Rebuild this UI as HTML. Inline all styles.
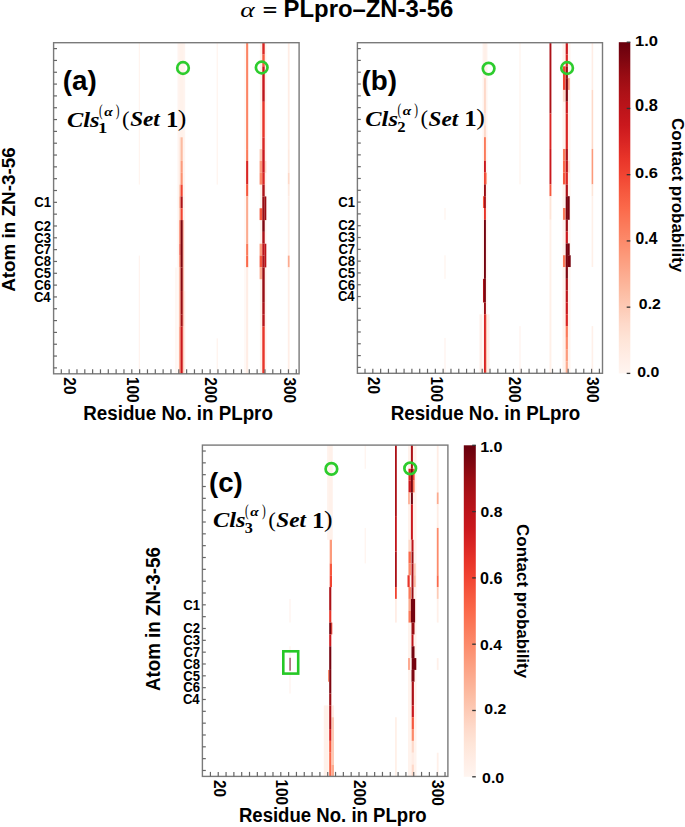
<!DOCTYPE html><html><head><meta charset="utf-8"><style>html,body{margin:0;padding:0;background:#fff}svg{display:block}</style></head><body>
<svg width="685" height="827" viewBox="0 0 685 827">
<rect width="685" height="827" fill="#fff"/>
<text transform="translate(240.28,16.59) scale(1.2918,1)" style="font-family:'Liberation Serif',serif;font-weight:normal;font-style:italic;font-size:21.250px;fill:#000">α</text>
<text transform="translate(262.82,15.58) scale(1.4355,1)" style="font-family:'Liberation Sans',sans-serif;font-weight:bold;font-style:normal;font-size:17.105px;fill:#000">=</text>
<text transform="translate(283.55,16.90) scale(0.9998,1)" style="font-family:'Liberation Sans',sans-serif;font-weight:bold;font-style:normal;font-size:23.900px;fill:#000">PLpro–ZN-3-56</text>
<rect x="138.80" y="42.70" width="1.00" height="141.90" fill="#fff2eb"/>
<rect x="138.80" y="255.55" width="1.00" height="118.25" fill="#fff1ea"/>
<rect x="177.50" y="42.70" width="7.70" height="331.10" fill="#fff4ef"/>
<rect x="179.50" y="42.70" width="4.10" height="141.90" fill="#fff2eb"/>
<rect x="175.50" y="267.38" width="1.00" height="106.43" fill="#fff0e8"/>
<rect x="184.00" y="291.03" width="1.20" height="82.77" fill="#ffede5"/>
<rect x="179.40" y="137.30" width="1.20" height="47.30" fill="#fee8dd"/>
<rect x="179.40" y="184.60" width="1.20" height="11.82" fill="#fcbba1"/>
<rect x="179.40" y="196.43" width="1.20" height="11.82" fill="#fc9b7c"/>
<rect x="179.40" y="208.25" width="1.20" height="11.83" fill="#fcbba1"/>
<rect x="179.40" y="220.08" width="1.20" height="23.65" fill="#fb694a"/>
<rect x="179.40" y="243.73" width="1.20" height="11.82" fill="#f14432"/>
<rect x="179.40" y="255.55" width="1.20" height="11.82" fill="#fb694a"/>
<rect x="179.40" y="267.38" width="1.20" height="59.12" fill="#fc9b7c"/>
<rect x="179.40" y="326.50" width="1.20" height="47.30" fill="#fb7a5a"/>
<rect x="182.70" y="220.08" width="0.70" height="106.42" fill="#fb694a"/>
<rect x="182.70" y="326.50" width="0.70" height="47.30" fill="#fc9b7c"/>
<rect x="180.60" y="137.30" width="2.10" height="23.65" fill="#fcbba1"/>
<rect x="180.60" y="160.95" width="2.10" height="11.83" fill="#fc9b7c"/>
<rect x="180.60" y="172.78" width="2.10" height="11.82" fill="#fc9070"/>
<rect x="180.60" y="184.60" width="2.10" height="11.82" fill="#f14432"/>
<rect x="180.60" y="196.43" width="2.10" height="11.82" fill="#ac1117"/>
<rect x="180.60" y="208.25" width="2.10" height="11.83" fill="#f14432"/>
<rect x="180.60" y="220.08" width="2.10" height="47.30" fill="#7e0610"/>
<rect x="180.60" y="267.38" width="2.10" height="23.65" fill="#880811"/>
<rect x="180.60" y="291.03" width="2.10" height="23.65" fill="#980c13"/>
<rect x="180.60" y="314.68" width="2.10" height="11.82" fill="#a10e15"/>
<rect x="180.60" y="326.50" width="2.10" height="47.30" fill="#ca181d"/>
<rect x="216.70" y="42.70" width="1.00" height="141.90" fill="#fff1ea"/>
<rect x="216.70" y="338.32" width="1.00" height="35.48" fill="#fff0e9"/>
<rect x="244.50" y="42.70" width="1.00" height="331.10" fill="#fff3ed"/>
<rect x="246.10" y="42.70" width="2.10" height="106.42" fill="#fc8464"/>
<rect x="246.10" y="149.12" width="2.10" height="11.83" fill="#fb7a5a"/>
<rect x="246.10" y="160.95" width="2.10" height="23.65" fill="#d92523"/>
<rect x="246.10" y="184.60" width="2.10" height="11.82" fill="#f6583e"/>
<rect x="246.10" y="196.43" width="2.10" height="47.30" fill="#fcab8f"/>
<rect x="246.10" y="243.73" width="2.10" height="11.82" fill="#fb7a5a"/>
<rect x="246.10" y="255.55" width="2.10" height="11.82" fill="#fb694a"/>
<rect x="246.10" y="267.38" width="2.10" height="106.43" fill="#ffede5"/>
<rect x="259.90" y="42.70" width="6.60" height="331.10" fill="#fff2eb"/>
<rect x="259.60" y="149.12" width="2.70" height="11.83" fill="#fdcab5"/>
<rect x="259.60" y="160.95" width="2.70" height="11.83" fill="#fc9b7c"/>
<rect x="259.60" y="172.78" width="2.70" height="11.82" fill="#fc8a6a"/>
<rect x="259.60" y="208.25" width="2.70" height="11.83" fill="#f6583e"/>
<rect x="259.60" y="243.73" width="2.70" height="11.82" fill="#fc9b7c"/>
<rect x="259.60" y="255.55" width="2.70" height="11.82" fill="#f6583e"/>
<rect x="259.60" y="267.38" width="2.70" height="11.83" fill="#fcab8f"/>
<rect x="264.70" y="160.95" width="1.60" height="11.83" fill="#fed9c9"/>
<rect x="264.70" y="196.43" width="1.60" height="23.65" fill="#980c13"/>
<rect x="264.70" y="243.73" width="1.60" height="23.65" fill="#bc141a"/>
<rect x="262.30" y="42.70" width="2.40" height="11.83" fill="#d92523"/>
<rect x="262.30" y="54.53" width="2.40" height="11.83" fill="#f6583e"/>
<rect x="262.30" y="66.35" width="2.40" height="23.65" fill="#ca181d"/>
<rect x="262.30" y="90.00" width="2.40" height="11.83" fill="#bc141a"/>
<rect x="262.30" y="101.83" width="2.40" height="35.47" fill="#e83429"/>
<rect x="262.30" y="137.30" width="2.40" height="11.82" fill="#d92523"/>
<rect x="262.30" y="149.12" width="2.40" height="23.65" fill="#ca181d"/>
<rect x="262.30" y="172.78" width="2.40" height="11.82" fill="#d92523"/>
<rect x="262.30" y="184.60" width="2.40" height="11.82" fill="#ac1117"/>
<rect x="262.30" y="196.43" width="2.40" height="23.65" fill="#980c13"/>
<rect x="262.30" y="220.08" width="2.40" height="11.82" fill="#7e0610"/>
<rect x="262.30" y="231.90" width="2.40" height="11.82" fill="#ac1117"/>
<rect x="262.30" y="243.73" width="2.40" height="11.82" fill="#bc141a"/>
<rect x="262.30" y="255.55" width="2.40" height="11.82" fill="#ac1117"/>
<rect x="262.30" y="267.38" width="2.40" height="35.48" fill="#980c13"/>
<rect x="262.30" y="302.85" width="2.40" height="11.82" fill="#ac1117"/>
<rect x="262.30" y="314.68" width="2.40" height="11.82" fill="#b61319"/>
<rect x="262.30" y="326.50" width="2.40" height="47.30" fill="#e83429"/>
<rect x="287.80" y="42.70" width="1.80" height="106.42" fill="#ffede5"/>
<rect x="287.80" y="149.12" width="1.80" height="23.65" fill="#feeae0"/>
<rect x="287.80" y="172.78" width="1.80" height="11.82" fill="#fed9c9"/>
<rect x="287.80" y="184.60" width="1.80" height="11.82" fill="#feeae0"/>
<rect x="287.80" y="196.43" width="1.80" height="59.12" fill="#ffeee7"/>
<rect x="287.80" y="255.55" width="1.80" height="11.82" fill="#fcab8f"/>
<rect x="287.80" y="267.38" width="1.80" height="106.43" fill="#ffeee7"/>
<rect x="53.6" y="42.7" width="245.50" height="331.10" fill="none" stroke="#7a7a7a" stroke-width="1.4"/>
<line x1="53.6" y1="48.61" x2="57.0" y2="48.61" stroke="#666" stroke-width="1.2"/>
<line x1="53.6" y1="60.44" x2="57.0" y2="60.44" stroke="#666" stroke-width="1.2"/>
<line x1="53.6" y1="72.26" x2="57.0" y2="72.26" stroke="#666" stroke-width="1.2"/>
<line x1="53.6" y1="84.09" x2="57.0" y2="84.09" stroke="#666" stroke-width="1.2"/>
<line x1="53.6" y1="95.91" x2="57.0" y2="95.91" stroke="#666" stroke-width="1.2"/>
<line x1="53.6" y1="107.74" x2="57.0" y2="107.74" stroke="#666" stroke-width="1.2"/>
<line x1="53.6" y1="119.56" x2="57.0" y2="119.56" stroke="#666" stroke-width="1.2"/>
<line x1="53.6" y1="131.39" x2="57.0" y2="131.39" stroke="#666" stroke-width="1.2"/>
<line x1="53.6" y1="143.21" x2="57.0" y2="143.21" stroke="#666" stroke-width="1.2"/>
<line x1="53.6" y1="155.04" x2="57.0" y2="155.04" stroke="#666" stroke-width="1.2"/>
<line x1="53.6" y1="166.86" x2="57.0" y2="166.86" stroke="#666" stroke-width="1.2"/>
<line x1="53.6" y1="178.69" x2="57.0" y2="178.69" stroke="#666" stroke-width="1.2"/>
<line x1="53.6" y1="190.51" x2="57.0" y2="190.51" stroke="#666" stroke-width="1.2"/>
<line x1="53.6" y1="202.34" x2="57.0" y2="202.34" stroke="#666" stroke-width="1.2"/>
<line x1="53.6" y1="214.16" x2="57.0" y2="214.16" stroke="#666" stroke-width="1.2"/>
<line x1="53.6" y1="225.99" x2="57.0" y2="225.99" stroke="#666" stroke-width="1.2"/>
<line x1="53.6" y1="237.81" x2="57.0" y2="237.81" stroke="#666" stroke-width="1.2"/>
<line x1="53.6" y1="249.64" x2="57.0" y2="249.64" stroke="#666" stroke-width="1.2"/>
<line x1="53.6" y1="261.46" x2="57.0" y2="261.46" stroke="#666" stroke-width="1.2"/>
<line x1="53.6" y1="273.29" x2="57.0" y2="273.29" stroke="#666" stroke-width="1.2"/>
<line x1="53.6" y1="285.11" x2="57.0" y2="285.11" stroke="#666" stroke-width="1.2"/>
<line x1="53.6" y1="296.94" x2="57.0" y2="296.94" stroke="#666" stroke-width="1.2"/>
<line x1="53.6" y1="308.76" x2="57.0" y2="308.76" stroke="#666" stroke-width="1.2"/>
<line x1="53.6" y1="320.59" x2="57.0" y2="320.59" stroke="#666" stroke-width="1.2"/>
<line x1="53.6" y1="332.41" x2="57.0" y2="332.41" stroke="#666" stroke-width="1.2"/>
<line x1="53.6" y1="344.24" x2="57.0" y2="344.24" stroke="#666" stroke-width="1.2"/>
<line x1="53.6" y1="356.06" x2="57.0" y2="356.06" stroke="#666" stroke-width="1.2"/>
<line x1="53.6" y1="367.89" x2="57.0" y2="367.89" stroke="#666" stroke-width="1.2"/>
<line x1="61.30" y1="373.8" x2="61.30" y2="369.3" stroke="#666" stroke-width="1.2"/>
<line x1="69.14" y1="373.8" x2="69.14" y2="369.3" stroke="#666" stroke-width="1.2"/>
<line x1="76.97" y1="373.8" x2="76.97" y2="369.3" stroke="#666" stroke-width="1.2"/>
<line x1="84.80" y1="373.8" x2="84.80" y2="369.3" stroke="#666" stroke-width="1.2"/>
<line x1="92.63" y1="373.8" x2="92.63" y2="369.3" stroke="#666" stroke-width="1.2"/>
<line x1="100.47" y1="373.8" x2="100.47" y2="369.3" stroke="#666" stroke-width="1.2"/>
<line x1="108.30" y1="373.8" x2="108.30" y2="369.3" stroke="#666" stroke-width="1.2"/>
<line x1="116.13" y1="373.8" x2="116.13" y2="369.3" stroke="#666" stroke-width="1.2"/>
<line x1="123.97" y1="373.8" x2="123.97" y2="369.3" stroke="#666" stroke-width="1.2"/>
<line x1="131.80" y1="373.8" x2="131.80" y2="369.3" stroke="#666" stroke-width="1.2"/>
<line x1="139.63" y1="373.8" x2="139.63" y2="369.3" stroke="#666" stroke-width="1.2"/>
<line x1="147.47" y1="373.8" x2="147.47" y2="369.3" stroke="#666" stroke-width="1.2"/>
<line x1="155.30" y1="373.8" x2="155.30" y2="369.3" stroke="#666" stroke-width="1.2"/>
<line x1="163.13" y1="373.8" x2="163.13" y2="369.3" stroke="#666" stroke-width="1.2"/>
<line x1="170.97" y1="373.8" x2="170.97" y2="369.3" stroke="#666" stroke-width="1.2"/>
<line x1="178.80" y1="373.8" x2="178.80" y2="369.3" stroke="#666" stroke-width="1.2"/>
<line x1="186.63" y1="373.8" x2="186.63" y2="369.3" stroke="#666" stroke-width="1.2"/>
<line x1="194.46" y1="373.8" x2="194.46" y2="369.3" stroke="#666" stroke-width="1.2"/>
<line x1="202.30" y1="373.8" x2="202.30" y2="369.3" stroke="#666" stroke-width="1.2"/>
<line x1="210.13" y1="373.8" x2="210.13" y2="369.3" stroke="#666" stroke-width="1.2"/>
<line x1="217.96" y1="373.8" x2="217.96" y2="369.3" stroke="#666" stroke-width="1.2"/>
<line x1="225.80" y1="373.8" x2="225.80" y2="369.3" stroke="#666" stroke-width="1.2"/>
<line x1="233.63" y1="373.8" x2="233.63" y2="369.3" stroke="#666" stroke-width="1.2"/>
<line x1="241.46" y1="373.8" x2="241.46" y2="369.3" stroke="#666" stroke-width="1.2"/>
<line x1="249.29" y1="373.8" x2="249.29" y2="369.3" stroke="#666" stroke-width="1.2"/>
<line x1="257.13" y1="373.8" x2="257.13" y2="369.3" stroke="#666" stroke-width="1.2"/>
<line x1="264.96" y1="373.8" x2="264.96" y2="369.3" stroke="#666" stroke-width="1.2"/>
<line x1="272.79" y1="373.8" x2="272.79" y2="369.3" stroke="#666" stroke-width="1.2"/>
<line x1="280.63" y1="373.8" x2="280.63" y2="369.3" stroke="#666" stroke-width="1.2"/>
<line x1="288.46" y1="373.8" x2="288.46" y2="369.3" stroke="#666" stroke-width="1.2"/>
<line x1="296.29" y1="373.8" x2="296.29" y2="369.3" stroke="#666" stroke-width="1.2"/>
<text transform="translate(34.21,207.10) scale(0.9500,1)" style="font-family:'Liberation Sans',sans-serif;font-weight:bold;font-style:normal;font-size:13.800px;fill:#000">C1</text>
<text transform="translate(34.34,230.75) scale(0.9500,1)" style="font-family:'Liberation Sans',sans-serif;font-weight:bold;font-style:normal;font-size:13.800px;fill:#000">C2</text>
<text transform="translate(34.34,242.57) scale(0.9500,1)" style="font-family:'Liberation Sans',sans-serif;font-weight:bold;font-style:normal;font-size:13.800px;fill:#000">C3</text>
<text transform="translate(34.41,254.40) scale(0.9500,1)" style="font-family:'Liberation Sans',sans-serif;font-weight:bold;font-style:normal;font-size:13.800px;fill:#000">C7</text>
<text transform="translate(34.21,266.22) scale(0.9500,1)" style="font-family:'Liberation Sans',sans-serif;font-weight:bold;font-style:normal;font-size:13.800px;fill:#000">C8</text>
<text transform="translate(34.21,278.05) scale(0.9500,1)" style="font-family:'Liberation Sans',sans-serif;font-weight:bold;font-style:normal;font-size:13.800px;fill:#000">C5</text>
<text transform="translate(34.34,289.87) scale(0.9500,1)" style="font-family:'Liberation Sans',sans-serif;font-weight:bold;font-style:normal;font-size:13.800px;fill:#000">C6</text>
<text transform="translate(33.88,301.70) scale(0.9500,1)" style="font-family:'Liberation Sans',sans-serif;font-weight:bold;font-style:normal;font-size:13.800px;fill:#000">C4</text>
<text transform="translate(64.42,377.36) rotate(90) scale(0.9600,1)" style="font-family:'Liberation Sans',sans-serif;font-weight:bold;font-style:normal;font-size:16.000px;fill:#000">20</text>
<text transform="translate(127.08,376.90) rotate(90) scale(0.9600,1)" style="font-family:'Liberation Sans',sans-serif;font-weight:bold;font-style:normal;font-size:16.000px;fill:#000">100</text>
<text transform="translate(205.41,377.36) rotate(90) scale(0.9600,1)" style="font-family:'Liberation Sans',sans-serif;font-weight:bold;font-style:normal;font-size:16.000px;fill:#000">200</text>
<text transform="translate(283.74,377.52) rotate(90) scale(0.9600,1)" style="font-family:'Liberation Sans',sans-serif;font-weight:bold;font-style:normal;font-size:16.000px;fill:#000">300</text>
<text transform="translate(62.71,90.23) scale(1.0135,1)" style="font-family:'Liberation Sans',sans-serif;font-weight:bold;font-style:normal;font-size:27.487px;fill:#000">(a)</text>
<text transform="translate(66.95,126.59) scale(1.1703,1)" style="font-family:'Liberation Serif',serif;font-weight:bold;font-style:italic;font-size:20.857px;fill:#000">Cls</text>
<text transform="translate(97.91,132.50) scale(1.2858,1)" style="font-family:'Liberation Serif',serif;font-weight:bold;font-style:normal;font-size:14.504px;fill:#000">1</text>
<text transform="translate(99.01,115.66) scale(0.6911,1)" style="font-family:'Liberation Serif',serif;font-weight:normal;font-style:normal;font-size:15.889px;fill:#000">(</text>
<text transform="translate(104.27,115.57) scale(1.1824,1)" style="font-family:'Liberation Serif',serif;font-weight:bold;font-style:italic;font-size:12.917px;fill:#000">α</text>
<text transform="translate(115.87,115.66) scale(0.7020,1)" style="font-family:'Liberation Serif',serif;font-weight:normal;font-style:normal;font-size:15.889px;fill:#000">)</text>
<text transform="translate(122.08,126.17) scale(1.0552,1)" style="font-family:'Liberation Serif',serif;font-weight:normal;font-style:normal;font-size:21.556px;fill:#000">(</text>
<text transform="translate(130.14,126.39) scale(1.0796,1)" style="font-family:'Liberation Serif',serif;font-weight:bold;font-style:italic;font-size:21.493px;fill:#000">Set</text>
<text transform="translate(165.91,126.80) scale(1.0858,1)" style="font-family:'Liberation Serif',serif;font-weight:bold;font-style:normal;font-size:22.901px;fill:#000">1</text>
<text transform="translate(177.83,126.03) scale(1.1596,1)" style="font-family:'Liberation Serif',serif;font-weight:normal;font-style:normal;font-size:22.222px;fill:#000">)</text>
<circle cx="183" cy="68" r="5.8" fill="none" stroke="#2dcc2d" stroke-width="2.7"/>
<circle cx="261.7" cy="67.5" r="5.8" fill="none" stroke="#2dcc2d" stroke-width="2.7"/>
<text transform="translate(14.81,291.87) rotate(-90) scale(0.9978,1)" style="font-family:'Liberation Sans',sans-serif;font-weight:bold;font-style:normal;font-size:18.912px;fill:#000">Atom in ZN-3-56</text>
<text transform="translate(83.28,419.99) scale(0.9586,1)" style="font-family:'Liberation Sans',sans-serif;font-weight:bold;font-style:normal;font-size:19.572px;fill:#000">Residue No. in PLpro</text>
<rect x="444.50" y="208.00" width="1.00" height="11.81" fill="#fff1ea"/>
<rect x="444.50" y="255.23" width="1.00" height="23.61" fill="#fff1ea"/>
<rect x="444.50" y="337.88" width="1.00" height="35.42" fill="#fff0e9"/>
<rect x="482.50" y="42.70" width="5.00" height="330.60" fill="#fff4ef"/>
<rect x="483.50" y="42.70" width="3.00" height="35.42" fill="#fff0e9"/>
<rect x="479.50" y="314.26" width="2.50" height="59.04" fill="#fff0e9"/>
<rect x="486.80" y="314.26" width="2.70" height="59.04" fill="#fff0e9"/>
<rect x="483.00" y="196.19" width="1.00" height="11.81" fill="#f6583e"/>
<rect x="483.00" y="278.84" width="1.00" height="23.61" fill="#ac1117"/>
<rect x="485.90" y="172.58" width="0.90" height="11.81" fill="#fc9b7c"/>
<rect x="485.90" y="314.26" width="0.90" height="59.04" fill="#fcbba1"/>
<rect x="484.00" y="78.12" width="1.90" height="35.42" fill="#fed9c9"/>
<rect x="484.00" y="113.54" width="1.90" height="11.81" fill="#fee5d8"/>
<rect x="484.00" y="125.35" width="1.90" height="11.81" fill="#fed9c9"/>
<rect x="484.00" y="137.16" width="1.90" height="23.61" fill="#fb7a5a"/>
<rect x="484.00" y="160.77" width="1.90" height="11.81" fill="#ca181d"/>
<rect x="484.00" y="172.58" width="1.90" height="11.81" fill="#f14432"/>
<rect x="484.00" y="184.39" width="1.90" height="11.81" fill="#980c13"/>
<rect x="484.00" y="196.19" width="1.90" height="11.81" fill="#ac1117"/>
<rect x="484.00" y="208.00" width="1.90" height="11.81" fill="#e83429"/>
<rect x="484.00" y="219.81" width="1.90" height="59.04" fill="#75030f"/>
<rect x="484.00" y="278.84" width="1.90" height="23.61" fill="#7e0610"/>
<rect x="484.00" y="302.46" width="1.90" height="11.81" fill="#980c13"/>
<rect x="484.00" y="314.26" width="1.90" height="59.04" fill="#d92523"/>
<rect x="519.50" y="42.70" width="1.00" height="141.69" fill="#fff1ea"/>
<rect x="519.50" y="326.07" width="1.00" height="47.23" fill="#fff0e9"/>
<rect x="549.50" y="42.70" width="1.90" height="70.84" fill="#ac1117"/>
<rect x="549.50" y="113.54" width="1.90" height="35.42" fill="#d92523"/>
<rect x="549.50" y="148.96" width="1.90" height="35.42" fill="#ca181d"/>
<rect x="549.50" y="184.39" width="1.90" height="11.81" fill="#f6583e"/>
<rect x="549.50" y="196.19" width="1.90" height="23.61" fill="#fee5d8"/>
<rect x="549.50" y="219.81" width="1.90" height="153.49" fill="#fff0e8"/>
<rect x="562.50" y="42.70" width="8.00" height="330.60" fill="#fff3ed"/>
<rect x="563.00" y="66.31" width="2.50" height="23.61" fill="#f14432"/>
<rect x="563.00" y="89.93" width="2.50" height="11.81" fill="#fed9c9"/>
<rect x="563.00" y="148.96" width="2.50" height="11.81" fill="#fb7a5a"/>
<rect x="563.00" y="160.77" width="2.50" height="11.81" fill="#fb694a"/>
<rect x="563.00" y="172.58" width="2.50" height="11.81" fill="#f6583e"/>
<rect x="563.00" y="208.00" width="2.50" height="11.81" fill="#fb7a5a"/>
<rect x="563.00" y="255.23" width="2.50" height="11.81" fill="#fb7a5a"/>
<rect x="567.60" y="78.12" width="2.10" height="11.81" fill="#fc9b7c"/>
<rect x="567.60" y="160.77" width="2.10" height="11.81" fill="#fed9c9"/>
<rect x="567.60" y="196.19" width="2.10" height="23.61" fill="#75030f"/>
<rect x="567.60" y="243.42" width="2.10" height="11.81" fill="#75030f"/>
<rect x="567.60" y="255.23" width="3.10" height="11.81" fill="#75030f"/>
<rect x="565.70" y="42.70" width="2.20" height="11.81" fill="#ca181d"/>
<rect x="565.70" y="54.51" width="2.20" height="11.81" fill="#d92523"/>
<rect x="565.70" y="66.31" width="2.20" height="11.81" fill="#980c13"/>
<rect x="565.70" y="78.12" width="2.20" height="23.61" fill="#7e0610"/>
<rect x="565.70" y="101.74" width="2.20" height="11.81" fill="#ca181d"/>
<rect x="565.70" y="113.54" width="2.20" height="35.42" fill="#d92523"/>
<rect x="565.70" y="148.96" width="2.20" height="11.81" fill="#ac1117"/>
<rect x="565.70" y="160.77" width="2.20" height="11.81" fill="#bc141a"/>
<rect x="565.70" y="172.58" width="2.20" height="11.81" fill="#d92523"/>
<rect x="565.70" y="184.39" width="2.20" height="11.81" fill="#ac1117"/>
<rect x="565.70" y="196.19" width="2.20" height="23.61" fill="#75030f"/>
<rect x="565.70" y="219.81" width="2.20" height="11.81" fill="#980c13"/>
<rect x="565.70" y="231.61" width="2.20" height="11.81" fill="#ca181d"/>
<rect x="565.70" y="243.42" width="2.20" height="23.61" fill="#75030f"/>
<rect x="565.70" y="267.04" width="2.20" height="11.81" fill="#7e0610"/>
<rect x="565.70" y="278.84" width="2.20" height="11.81" fill="#ac1117"/>
<rect x="565.70" y="290.65" width="2.20" height="11.81" fill="#bc141a"/>
<rect x="565.70" y="302.46" width="2.20" height="11.81" fill="#ca181d"/>
<rect x="565.70" y="314.26" width="2.20" height="11.81" fill="#d92523"/>
<rect x="565.70" y="326.07" width="2.20" height="11.81" fill="#fb7a5a"/>
<rect x="565.70" y="337.88" width="2.20" height="11.81" fill="#fc8a6a"/>
<rect x="565.70" y="349.69" width="2.20" height="11.81" fill="#fc9b7c"/>
<rect x="565.70" y="361.49" width="2.20" height="11.81" fill="#fcab8f"/>
<rect x="591.60" y="42.70" width="1.60" height="47.23" fill="#ffede5"/>
<rect x="591.60" y="89.93" width="1.60" height="59.04" fill="#fed9c9"/>
<rect x="591.60" y="148.96" width="1.60" height="35.42" fill="#fc9b7c"/>
<rect x="591.60" y="184.39" width="1.60" height="11.81" fill="#fee5d8"/>
<rect x="591.60" y="196.19" width="1.60" height="70.84" fill="#fff0e8"/>
<rect x="591.60" y="326.07" width="1.60" height="47.23" fill="#fff0e9"/>
<rect x="357.4" y="42.7" width="245.10" height="330.60" fill="none" stroke="#7a7a7a" stroke-width="1.4"/>
<line x1="357.4" y1="48.60" x2="360.79999999999995" y2="48.60" stroke="#666" stroke-width="1.2"/>
<line x1="357.4" y1="60.41" x2="360.79999999999995" y2="60.41" stroke="#666" stroke-width="1.2"/>
<line x1="357.4" y1="72.22" x2="360.79999999999995" y2="72.22" stroke="#666" stroke-width="1.2"/>
<line x1="357.4" y1="84.03" x2="360.79999999999995" y2="84.03" stroke="#666" stroke-width="1.2"/>
<line x1="357.4" y1="95.83" x2="360.79999999999995" y2="95.83" stroke="#666" stroke-width="1.2"/>
<line x1="357.4" y1="107.64" x2="360.79999999999995" y2="107.64" stroke="#666" stroke-width="1.2"/>
<line x1="357.4" y1="119.45" x2="360.79999999999995" y2="119.45" stroke="#666" stroke-width="1.2"/>
<line x1="357.4" y1="131.25" x2="360.79999999999995" y2="131.25" stroke="#666" stroke-width="1.2"/>
<line x1="357.4" y1="143.06" x2="360.79999999999995" y2="143.06" stroke="#666" stroke-width="1.2"/>
<line x1="357.4" y1="154.87" x2="360.79999999999995" y2="154.87" stroke="#666" stroke-width="1.2"/>
<line x1="357.4" y1="166.68" x2="360.79999999999995" y2="166.68" stroke="#666" stroke-width="1.2"/>
<line x1="357.4" y1="178.48" x2="360.79999999999995" y2="178.48" stroke="#666" stroke-width="1.2"/>
<line x1="357.4" y1="190.29" x2="360.79999999999995" y2="190.29" stroke="#666" stroke-width="1.2"/>
<line x1="357.4" y1="202.10" x2="360.79999999999995" y2="202.10" stroke="#666" stroke-width="1.2"/>
<line x1="357.4" y1="213.90" x2="360.79999999999995" y2="213.90" stroke="#666" stroke-width="1.2"/>
<line x1="357.4" y1="225.71" x2="360.79999999999995" y2="225.71" stroke="#666" stroke-width="1.2"/>
<line x1="357.4" y1="237.52" x2="360.79999999999995" y2="237.52" stroke="#666" stroke-width="1.2"/>
<line x1="357.4" y1="249.33" x2="360.79999999999995" y2="249.33" stroke="#666" stroke-width="1.2"/>
<line x1="357.4" y1="261.13" x2="360.79999999999995" y2="261.13" stroke="#666" stroke-width="1.2"/>
<line x1="357.4" y1="272.94" x2="360.79999999999995" y2="272.94" stroke="#666" stroke-width="1.2"/>
<line x1="357.4" y1="284.75" x2="360.79999999999995" y2="284.75" stroke="#666" stroke-width="1.2"/>
<line x1="357.4" y1="296.55" x2="360.79999999999995" y2="296.55" stroke="#666" stroke-width="1.2"/>
<line x1="357.4" y1="308.36" x2="360.79999999999995" y2="308.36" stroke="#666" stroke-width="1.2"/>
<line x1="357.4" y1="320.17" x2="360.79999999999995" y2="320.17" stroke="#666" stroke-width="1.2"/>
<line x1="357.4" y1="331.98" x2="360.79999999999995" y2="331.98" stroke="#666" stroke-width="1.2"/>
<line x1="357.4" y1="343.78" x2="360.79999999999995" y2="343.78" stroke="#666" stroke-width="1.2"/>
<line x1="357.4" y1="355.59" x2="360.79999999999995" y2="355.59" stroke="#666" stroke-width="1.2"/>
<line x1="357.4" y1="367.40" x2="360.79999999999995" y2="367.40" stroke="#666" stroke-width="1.2"/>
<line x1="365.01" y1="373.3" x2="365.01" y2="368.8" stroke="#666" stroke-width="1.2"/>
<line x1="372.83" y1="373.3" x2="372.83" y2="368.8" stroke="#666" stroke-width="1.2"/>
<line x1="380.64" y1="373.3" x2="380.64" y2="368.8" stroke="#666" stroke-width="1.2"/>
<line x1="388.45" y1="373.3" x2="388.45" y2="368.8" stroke="#666" stroke-width="1.2"/>
<line x1="396.26" y1="373.3" x2="396.26" y2="368.8" stroke="#666" stroke-width="1.2"/>
<line x1="404.08" y1="373.3" x2="404.08" y2="368.8" stroke="#666" stroke-width="1.2"/>
<line x1="411.89" y1="373.3" x2="411.89" y2="368.8" stroke="#666" stroke-width="1.2"/>
<line x1="419.70" y1="373.3" x2="419.70" y2="368.8" stroke="#666" stroke-width="1.2"/>
<line x1="427.52" y1="373.3" x2="427.52" y2="368.8" stroke="#666" stroke-width="1.2"/>
<line x1="435.33" y1="373.3" x2="435.33" y2="368.8" stroke="#666" stroke-width="1.2"/>
<line x1="443.14" y1="373.3" x2="443.14" y2="368.8" stroke="#666" stroke-width="1.2"/>
<line x1="450.96" y1="373.3" x2="450.96" y2="368.8" stroke="#666" stroke-width="1.2"/>
<line x1="458.77" y1="373.3" x2="458.77" y2="368.8" stroke="#666" stroke-width="1.2"/>
<line x1="466.58" y1="373.3" x2="466.58" y2="368.8" stroke="#666" stroke-width="1.2"/>
<line x1="474.39" y1="373.3" x2="474.39" y2="368.8" stroke="#666" stroke-width="1.2"/>
<line x1="482.21" y1="373.3" x2="482.21" y2="368.8" stroke="#666" stroke-width="1.2"/>
<line x1="490.02" y1="373.3" x2="490.02" y2="368.8" stroke="#666" stroke-width="1.2"/>
<line x1="497.83" y1="373.3" x2="497.83" y2="368.8" stroke="#666" stroke-width="1.2"/>
<line x1="505.65" y1="373.3" x2="505.65" y2="368.8" stroke="#666" stroke-width="1.2"/>
<line x1="513.46" y1="373.3" x2="513.46" y2="368.8" stroke="#666" stroke-width="1.2"/>
<line x1="521.27" y1="373.3" x2="521.27" y2="368.8" stroke="#666" stroke-width="1.2"/>
<line x1="529.09" y1="373.3" x2="529.09" y2="368.8" stroke="#666" stroke-width="1.2"/>
<line x1="536.90" y1="373.3" x2="536.90" y2="368.8" stroke="#666" stroke-width="1.2"/>
<line x1="544.71" y1="373.3" x2="544.71" y2="368.8" stroke="#666" stroke-width="1.2"/>
<line x1="552.52" y1="373.3" x2="552.52" y2="368.8" stroke="#666" stroke-width="1.2"/>
<line x1="560.34" y1="373.3" x2="560.34" y2="368.8" stroke="#666" stroke-width="1.2"/>
<line x1="568.15" y1="373.3" x2="568.15" y2="368.8" stroke="#666" stroke-width="1.2"/>
<line x1="575.96" y1="373.3" x2="575.96" y2="368.8" stroke="#666" stroke-width="1.2"/>
<line x1="583.78" y1="373.3" x2="583.78" y2="368.8" stroke="#666" stroke-width="1.2"/>
<line x1="591.59" y1="373.3" x2="591.59" y2="368.8" stroke="#666" stroke-width="1.2"/>
<line x1="599.40" y1="373.3" x2="599.40" y2="368.8" stroke="#666" stroke-width="1.2"/>
<text transform="translate(338.21,206.86) scale(0.9500,1)" style="font-family:'Liberation Sans',sans-serif;font-weight:bold;font-style:normal;font-size:13.800px;fill:#000">C1</text>
<text transform="translate(338.34,230.47) scale(0.9500,1)" style="font-family:'Liberation Sans',sans-serif;font-weight:bold;font-style:normal;font-size:13.800px;fill:#000">C2</text>
<text transform="translate(338.34,242.28) scale(0.9500,1)" style="font-family:'Liberation Sans',sans-serif;font-weight:bold;font-style:normal;font-size:13.800px;fill:#000">C3</text>
<text transform="translate(338.41,254.09) scale(0.9500,1)" style="font-family:'Liberation Sans',sans-serif;font-weight:bold;font-style:normal;font-size:13.800px;fill:#000">C7</text>
<text transform="translate(338.21,265.89) scale(0.9500,1)" style="font-family:'Liberation Sans',sans-serif;font-weight:bold;font-style:normal;font-size:13.800px;fill:#000">C8</text>
<text transform="translate(338.21,277.70) scale(0.9500,1)" style="font-family:'Liberation Sans',sans-serif;font-weight:bold;font-style:normal;font-size:13.800px;fill:#000">C5</text>
<text transform="translate(338.34,289.51) scale(0.9500,1)" style="font-family:'Liberation Sans',sans-serif;font-weight:bold;font-style:normal;font-size:13.800px;fill:#000">C6</text>
<text transform="translate(337.88,301.31) scale(0.9500,1)" style="font-family:'Liberation Sans',sans-serif;font-weight:bold;font-style:normal;font-size:13.800px;fill:#000">C4</text>
<text transform="translate(368.11,376.86) rotate(90) scale(0.9600,1)" style="font-family:'Liberation Sans',sans-serif;font-weight:bold;font-style:normal;font-size:16.000px;fill:#000">20</text>
<text transform="translate(430.61,376.40) rotate(90) scale(0.9600,1)" style="font-family:'Liberation Sans',sans-serif;font-weight:bold;font-style:normal;font-size:16.000px;fill:#000">100</text>
<text transform="translate(508.74,376.86) rotate(90) scale(0.9600,1)" style="font-family:'Liberation Sans',sans-serif;font-weight:bold;font-style:normal;font-size:16.000px;fill:#000">200</text>
<text transform="translate(586.87,377.02) rotate(90) scale(0.9600,1)" style="font-family:'Liberation Sans',sans-serif;font-weight:bold;font-style:normal;font-size:16.000px;fill:#000">300</text>
<text transform="translate(361.61,90.09) scale(1.0408,1)" style="font-family:'Liberation Sans',sans-serif;font-weight:bold;font-style:normal;font-size:26.738px;fill:#000">(b)</text>
<text transform="translate(365.35,125.79) scale(1.1703,1)" style="font-family:'Liberation Serif',serif;font-weight:bold;font-style:italic;font-size:20.857px;fill:#000">Cls</text>
<text transform="translate(397.13,131.70) scale(1.1551,1)" style="font-family:'Liberation Serif',serif;font-weight:bold;font-style:normal;font-size:14.394px;fill:#000">2</text>
<text transform="translate(397.41,114.86) scale(0.6911,1)" style="font-family:'Liberation Serif',serif;font-weight:normal;font-style:normal;font-size:15.889px;fill:#000">(</text>
<text transform="translate(402.67,114.77) scale(1.1824,1)" style="font-family:'Liberation Serif',serif;font-weight:bold;font-style:italic;font-size:12.917px;fill:#000">α</text>
<text transform="translate(414.27,114.86) scale(0.7020,1)" style="font-family:'Liberation Serif',serif;font-weight:normal;font-style:normal;font-size:15.889px;fill:#000">)</text>
<text transform="translate(420.48,125.37) scale(1.0552,1)" style="font-family:'Liberation Serif',serif;font-weight:normal;font-style:normal;font-size:21.556px;fill:#000">(</text>
<text transform="translate(428.54,125.59) scale(1.0796,1)" style="font-family:'Liberation Serif',serif;font-weight:bold;font-style:italic;font-size:21.493px;fill:#000">Set</text>
<text transform="translate(464.31,126.00) scale(1.0858,1)" style="font-family:'Liberation Serif',serif;font-weight:bold;font-style:normal;font-size:22.901px;fill:#000">1</text>
<text transform="translate(476.23,125.23) scale(1.1596,1)" style="font-family:'Liberation Serif',serif;font-weight:normal;font-style:normal;font-size:22.222px;fill:#000">)</text>
<circle cx="488.6" cy="68.6" r="5.8" fill="none" stroke="#2dcc2d" stroke-width="2.7"/>
<circle cx="567.1" cy="68.0" r="5.8" fill="none" stroke="#2dcc2d" stroke-width="2.7"/>
<text transform="translate(390.68,419.93) scale(0.9697,1)" style="font-family:'Liberation Sans',sans-serif;font-weight:bold;font-style:normal;font-size:19.358px;fill:#000">Residue No. in PLpro</text>
<defs><linearGradient id="g618" x1="0" y1="1" x2="0" y2="0">
<stop offset="0.000" stop-color="#fff5f0"/>
<stop offset="0.050" stop-color="#ffede5"/>
<stop offset="0.100" stop-color="#fee5d8"/>
<stop offset="0.150" stop-color="#fed9c9"/>
<stop offset="0.200" stop-color="#fdcab5"/>
<stop offset="0.250" stop-color="#fcbba1"/>
<stop offset="0.300" stop-color="#fcab8f"/>
<stop offset="0.350" stop-color="#fc9b7c"/>
<stop offset="0.400" stop-color="#fc8a6a"/>
<stop offset="0.450" stop-color="#fb7a5a"/>
<stop offset="0.500" stop-color="#fb694a"/>
<stop offset="0.550" stop-color="#f6583e"/>
<stop offset="0.600" stop-color="#f14432"/>
<stop offset="0.650" stop-color="#e83429"/>
<stop offset="0.700" stop-color="#d92523"/>
<stop offset="0.750" stop-color="#ca181d"/>
<stop offset="0.800" stop-color="#bc141a"/>
<stop offset="0.850" stop-color="#ac1117"/>
<stop offset="0.900" stop-color="#980c13"/>
<stop offset="0.950" stop-color="#7e0610"/>
<stop offset="1.000" stop-color="#67000d"/>
</linearGradient></defs>
<rect x="618.8" y="42.2" width="11.5" height="331.2" fill="url(#g618)"/>
<line x1="626.6999999999999" y1="373.40" x2="630.3" y2="373.40" stroke="#333" stroke-width="1.3"/>
<line x1="626.6999999999999" y1="307.16" x2="630.3" y2="307.16" stroke="#333" stroke-width="1.3"/>
<line x1="626.6999999999999" y1="240.92" x2="630.3" y2="240.92" stroke="#333" stroke-width="1.3"/>
<line x1="626.6999999999999" y1="174.68" x2="630.3" y2="174.68" stroke="#333" stroke-width="1.3"/>
<line x1="626.6999999999999" y1="108.44" x2="630.3" y2="108.44" stroke="#333" stroke-width="1.3"/>
<line x1="626.6999999999999" y1="42.20" x2="630.3" y2="42.20" stroke="#333" stroke-width="1.3"/>
<text transform="translate(634.92,45.96) scale(1.1888,1)" style="font-family:'Liberation Sans',sans-serif;font-weight:bold;font-style:normal;font-size:13.944px;fill:#000">1.0</text>
<text transform="translate(635.05,111.44) scale(1.0373,1)" style="font-family:'Liberation Sans',sans-serif;font-weight:bold;font-style:normal;font-size:15.775px;fill:#000">0.8</text>
<text transform="translate(635.04,178.15) scale(1.0699,1)" style="font-family:'Liberation Sans',sans-serif;font-weight:bold;font-style:normal;font-size:15.352px;fill:#000">0.6</text>
<text transform="translate(635.57,243.94) scale(0.9685,1)" style="font-family:'Liberation Sans',sans-serif;font-weight:bold;font-style:normal;font-size:16.197px;fill:#000">0.4</text>
<text transform="translate(638.87,308.95) scale(1.0293,1)" style="font-family:'Liberation Sans',sans-serif;font-weight:bold;font-style:normal;font-size:15.352px;fill:#000">0.2</text>
<text transform="translate(637.16,376.55) scale(1.0342,1)" style="font-family:'Liberation Sans',sans-serif;font-weight:bold;font-style:normal;font-size:15.352px;fill:#000">0.0</text>
<text transform="translate(672.19,118.12) rotate(90) scale(1.0485,1)" style="font-family:'Liberation Sans',sans-serif;font-weight:bold;font-style:normal;font-size:16.150px;fill:#000">Contact probability</text>
<rect x="289.50" y="598.92" width="1.00" height="23.66" fill="#fff0e9"/>
<rect x="289.50" y="646.25" width="1.00" height="11.83" fill="#fff0e9"/>
<rect x="289.50" y="669.91" width="1.00" height="23.66" fill="#fff0e9"/>
<rect x="327.00" y="445.10" width="6.00" height="94.66" fill="#fff4ef"/>
<rect x="328.50" y="445.10" width="3.50" height="94.66" fill="#fff1ea"/>
<rect x="323.80" y="705.41" width="4.80" height="70.99" fill="#fff1ea"/>
<rect x="331.50" y="705.41" width="2.50" height="11.83" fill="#ffede5"/>
<rect x="331.50" y="717.24" width="2.50" height="47.33" fill="#fdcab5"/>
<rect x="331.50" y="764.57" width="2.50" height="11.83" fill="#fcab8f"/>
<rect x="331.10" y="622.58" width="1.20" height="11.83" fill="#f14432"/>
<rect x="328.00" y="669.91" width="1.00" height="11.83" fill="#fc8a6a"/>
<rect x="329.70" y="539.76" width="2.30" height="23.66" fill="#fc9b7c"/>
<rect x="329.70" y="563.42" width="2.30" height="11.83" fill="#f6583e"/>
<rect x="329.70" y="575.25" width="2.30" height="11.83" fill="#f14432"/>
<rect x="329.20" y="587.09" width="2.10" height="23.66" fill="#ac1117"/>
<rect x="329.20" y="610.75" width="2.10" height="11.83" fill="#e83429"/>
<rect x="329.20" y="622.58" width="2.10" height="11.83" fill="#75030f"/>
<rect x="329.20" y="634.41" width="2.10" height="11.83" fill="#ca181d"/>
<rect x="329.20" y="646.25" width="2.10" height="23.66" fill="#75030f"/>
<rect x="329.20" y="669.91" width="2.10" height="23.66" fill="#7e0610"/>
<rect x="329.20" y="693.58" width="2.10" height="11.83" fill="#980c13"/>
<rect x="329.20" y="705.41" width="2.10" height="23.66" fill="#ac1117"/>
<rect x="329.20" y="729.07" width="2.10" height="11.83" fill="#d92523"/>
<rect x="329.20" y="740.90" width="2.10" height="11.83" fill="#f6583e"/>
<rect x="329.20" y="752.74" width="2.10" height="23.66" fill="#fb694a"/>
<rect x="364.70" y="445.10" width="1.00" height="23.66" fill="#fff1ea"/>
<rect x="364.70" y="527.92" width="1.00" height="35.50" fill="#fff1ea"/>
<rect x="395.00" y="445.10" width="1.80" height="70.99" fill="#ac1117"/>
<rect x="395.00" y="516.09" width="1.80" height="35.50" fill="#c2161b"/>
<rect x="395.00" y="551.59" width="1.80" height="35.50" fill="#ac1117"/>
<rect x="395.00" y="587.09" width="1.80" height="11.83" fill="#f14432"/>
<rect x="395.00" y="598.92" width="1.80" height="23.66" fill="#ffede5"/>
<rect x="395.00" y="717.24" width="1.80" height="59.16" fill="#fff0e8"/>
<rect x="408.00" y="445.10" width="8.50" height="331.30" fill="#fff3ed"/>
<rect x="408.50" y="468.76" width="2.40" height="11.83" fill="#d92523"/>
<rect x="408.50" y="480.60" width="2.40" height="11.83" fill="#ca181d"/>
<rect x="408.50" y="539.76" width="2.40" height="11.83" fill="#fed9c9"/>
<rect x="408.50" y="551.59" width="2.40" height="11.83" fill="#fb694a"/>
<rect x="408.50" y="563.42" width="2.40" height="11.83" fill="#fc8a6a"/>
<rect x="408.50" y="587.09" width="2.40" height="11.83" fill="#fb7a5a"/>
<rect x="408.50" y="598.92" width="2.40" height="11.83" fill="#fcab8f"/>
<rect x="408.50" y="610.75" width="2.40" height="11.83" fill="#fb7a5a"/>
<rect x="408.30" y="492.43" width="1.40" height="11.83" fill="#fc9b7c"/>
<rect x="408.30" y="658.08" width="1.40" height="11.83" fill="#fc8a6a"/>
<rect x="407.50" y="575.25" width="2.20" height="11.83" fill="#e83429"/>
<rect x="412.90" y="468.76" width="1.70" height="11.83" fill="#f14432"/>
<rect x="412.90" y="480.60" width="1.70" height="11.83" fill="#fb7a5a"/>
<rect x="413.90" y="563.42" width="1.80" height="11.83" fill="#fdcab5"/>
<rect x="413.90" y="575.25" width="1.80" height="11.83" fill="#fcbba1"/>
<rect x="410.90" y="445.10" width="2.00" height="23.66" fill="#ac1117"/>
<rect x="410.90" y="468.76" width="2.00" height="23.66" fill="#7e0610"/>
<rect x="410.90" y="492.43" width="2.00" height="11.83" fill="#75030f"/>
<rect x="410.90" y="504.26" width="2.00" height="35.50" fill="#ca181d"/>
<rect x="411.50" y="539.76" width="2.00" height="11.83" fill="#bc141a"/>
<rect x="411.50" y="551.59" width="2.00" height="11.83" fill="#980c13"/>
<rect x="411.50" y="563.42" width="2.00" height="23.66" fill="#ac1117"/>
<rect x="411.50" y="587.09" width="2.00" height="11.83" fill="#980c13"/>
<rect x="411.50" y="634.41" width="2.00" height="11.83" fill="#bc141a"/>
<rect x="410.90" y="598.92" width="4.20" height="23.66" fill="#75030f"/>
<rect x="411.50" y="622.58" width="3.00" height="11.83" fill="#980c13"/>
<rect x="411.50" y="646.25" width="3.00" height="11.83" fill="#75030f"/>
<rect x="411.50" y="669.91" width="3.00" height="11.83" fill="#7e0610"/>
<rect x="411.70" y="658.08" width="4.60" height="11.83" fill="#75030f"/>
<rect x="411.70" y="681.74" width="2.20" height="23.66" fill="#ac1117"/>
<rect x="411.70" y="705.41" width="2.20" height="11.83" fill="#ca181d"/>
<rect x="411.70" y="717.24" width="2.20" height="11.83" fill="#f6583e"/>
<rect x="411.70" y="729.07" width="2.20" height="11.83" fill="#fc8a6a"/>
<rect x="411.70" y="740.90" width="2.20" height="11.83" fill="#fed9c9"/>
<rect x="411.70" y="752.74" width="2.20" height="11.83" fill="#ffede5"/>
<rect x="411.70" y="764.57" width="2.20" height="11.83" fill="#fed9c9"/>
<rect x="436.80" y="445.10" width="1.80" height="47.33" fill="#ffede5"/>
<rect x="436.80" y="492.43" width="1.80" height="11.83" fill="#fcab8f"/>
<rect x="436.80" y="504.26" width="1.80" height="23.66" fill="#ffede5"/>
<rect x="436.80" y="527.92" width="1.80" height="47.33" fill="#fc8a6a"/>
<rect x="436.80" y="575.25" width="1.80" height="11.83" fill="#fb694a"/>
<rect x="436.80" y="587.09" width="1.80" height="11.83" fill="#fdcab5"/>
<rect x="436.80" y="598.92" width="1.80" height="23.66" fill="#fff0e9"/>
<rect x="436.80" y="658.08" width="1.80" height="11.83" fill="#fff0e9"/>
<rect x="436.80" y="752.74" width="1.80" height="23.66" fill="#fff0e9"/>
<rect x="289.2" y="657.8" width="1.8" height="12.9" fill="#b07580"/>
<rect x="202.4" y="445.1" width="245.50" height="331.30" fill="none" stroke="#7a7a7a" stroke-width="1.4"/>
<line x1="202.4" y1="451.02" x2="205.8" y2="451.02" stroke="#666" stroke-width="1.2"/>
<line x1="202.4" y1="462.85" x2="205.8" y2="462.85" stroke="#666" stroke-width="1.2"/>
<line x1="202.4" y1="474.68" x2="205.8" y2="474.68" stroke="#666" stroke-width="1.2"/>
<line x1="202.4" y1="486.51" x2="205.8" y2="486.51" stroke="#666" stroke-width="1.2"/>
<line x1="202.4" y1="498.34" x2="205.8" y2="498.34" stroke="#666" stroke-width="1.2"/>
<line x1="202.4" y1="510.18" x2="205.8" y2="510.18" stroke="#666" stroke-width="1.2"/>
<line x1="202.4" y1="522.01" x2="205.8" y2="522.01" stroke="#666" stroke-width="1.2"/>
<line x1="202.4" y1="533.84" x2="205.8" y2="533.84" stroke="#666" stroke-width="1.2"/>
<line x1="202.4" y1="545.67" x2="205.8" y2="545.67" stroke="#666" stroke-width="1.2"/>
<line x1="202.4" y1="557.51" x2="205.8" y2="557.51" stroke="#666" stroke-width="1.2"/>
<line x1="202.4" y1="569.34" x2="205.8" y2="569.34" stroke="#666" stroke-width="1.2"/>
<line x1="202.4" y1="581.17" x2="205.8" y2="581.17" stroke="#666" stroke-width="1.2"/>
<line x1="202.4" y1="593.00" x2="205.8" y2="593.00" stroke="#666" stroke-width="1.2"/>
<line x1="202.4" y1="604.83" x2="205.8" y2="604.83" stroke="#666" stroke-width="1.2"/>
<line x1="202.4" y1="616.67" x2="205.8" y2="616.67" stroke="#666" stroke-width="1.2"/>
<line x1="202.4" y1="628.50" x2="205.8" y2="628.50" stroke="#666" stroke-width="1.2"/>
<line x1="202.4" y1="640.33" x2="205.8" y2="640.33" stroke="#666" stroke-width="1.2"/>
<line x1="202.4" y1="652.16" x2="205.8" y2="652.16" stroke="#666" stroke-width="1.2"/>
<line x1="202.4" y1="663.99" x2="205.8" y2="663.99" stroke="#666" stroke-width="1.2"/>
<line x1="202.4" y1="675.83" x2="205.8" y2="675.83" stroke="#666" stroke-width="1.2"/>
<line x1="202.4" y1="687.66" x2="205.8" y2="687.66" stroke="#666" stroke-width="1.2"/>
<line x1="202.4" y1="699.49" x2="205.8" y2="699.49" stroke="#666" stroke-width="1.2"/>
<line x1="202.4" y1="711.32" x2="205.8" y2="711.32" stroke="#666" stroke-width="1.2"/>
<line x1="202.4" y1="723.16" x2="205.8" y2="723.16" stroke="#666" stroke-width="1.2"/>
<line x1="202.4" y1="734.99" x2="205.8" y2="734.99" stroke="#666" stroke-width="1.2"/>
<line x1="202.4" y1="746.82" x2="205.8" y2="746.82" stroke="#666" stroke-width="1.2"/>
<line x1="202.4" y1="758.65" x2="205.8" y2="758.65" stroke="#666" stroke-width="1.2"/>
<line x1="202.4" y1="770.48" x2="205.8" y2="770.48" stroke="#666" stroke-width="1.2"/>
<line x1="210.42" y1="776.4" x2="210.42" y2="771.9" stroke="#666" stroke-width="1.2"/>
<line x1="218.24" y1="776.4" x2="218.24" y2="771.9" stroke="#666" stroke-width="1.2"/>
<line x1="226.06" y1="776.4" x2="226.06" y2="771.9" stroke="#666" stroke-width="1.2"/>
<line x1="233.88" y1="776.4" x2="233.88" y2="771.9" stroke="#666" stroke-width="1.2"/>
<line x1="241.70" y1="776.4" x2="241.70" y2="771.9" stroke="#666" stroke-width="1.2"/>
<line x1="249.52" y1="776.4" x2="249.52" y2="771.9" stroke="#666" stroke-width="1.2"/>
<line x1="257.34" y1="776.4" x2="257.34" y2="771.9" stroke="#666" stroke-width="1.2"/>
<line x1="265.16" y1="776.4" x2="265.16" y2="771.9" stroke="#666" stroke-width="1.2"/>
<line x1="272.98" y1="776.4" x2="272.98" y2="771.9" stroke="#666" stroke-width="1.2"/>
<line x1="280.80" y1="776.4" x2="280.80" y2="771.9" stroke="#666" stroke-width="1.2"/>
<line x1="288.62" y1="776.4" x2="288.62" y2="771.9" stroke="#666" stroke-width="1.2"/>
<line x1="296.44" y1="776.4" x2="296.44" y2="771.9" stroke="#666" stroke-width="1.2"/>
<line x1="304.26" y1="776.4" x2="304.26" y2="771.9" stroke="#666" stroke-width="1.2"/>
<line x1="312.08" y1="776.4" x2="312.08" y2="771.9" stroke="#666" stroke-width="1.2"/>
<line x1="319.90" y1="776.4" x2="319.90" y2="771.9" stroke="#666" stroke-width="1.2"/>
<line x1="327.72" y1="776.4" x2="327.72" y2="771.9" stroke="#666" stroke-width="1.2"/>
<line x1="335.54" y1="776.4" x2="335.54" y2="771.9" stroke="#666" stroke-width="1.2"/>
<line x1="343.36" y1="776.4" x2="343.36" y2="771.9" stroke="#666" stroke-width="1.2"/>
<line x1="351.18" y1="776.4" x2="351.18" y2="771.9" stroke="#666" stroke-width="1.2"/>
<line x1="359.00" y1="776.4" x2="359.00" y2="771.9" stroke="#666" stroke-width="1.2"/>
<line x1="366.82" y1="776.4" x2="366.82" y2="771.9" stroke="#666" stroke-width="1.2"/>
<line x1="374.64" y1="776.4" x2="374.64" y2="771.9" stroke="#666" stroke-width="1.2"/>
<line x1="382.46" y1="776.4" x2="382.46" y2="771.9" stroke="#666" stroke-width="1.2"/>
<line x1="390.28" y1="776.4" x2="390.28" y2="771.9" stroke="#666" stroke-width="1.2"/>
<line x1="398.10" y1="776.4" x2="398.10" y2="771.9" stroke="#666" stroke-width="1.2"/>
<line x1="405.92" y1="776.4" x2="405.92" y2="771.9" stroke="#666" stroke-width="1.2"/>
<line x1="413.74" y1="776.4" x2="413.74" y2="771.9" stroke="#666" stroke-width="1.2"/>
<line x1="421.56" y1="776.4" x2="421.56" y2="771.9" stroke="#666" stroke-width="1.2"/>
<line x1="429.38" y1="776.4" x2="429.38" y2="771.9" stroke="#666" stroke-width="1.2"/>
<line x1="437.20" y1="776.4" x2="437.20" y2="771.9" stroke="#666" stroke-width="1.2"/>
<line x1="445.02" y1="776.4" x2="445.02" y2="771.9" stroke="#666" stroke-width="1.2"/>
<text transform="translate(183.21,609.59) scale(0.9500,1)" style="font-family:'Liberation Sans',sans-serif;font-weight:bold;font-style:normal;font-size:13.800px;fill:#000">C1</text>
<text transform="translate(183.34,633.26) scale(0.9500,1)" style="font-family:'Liberation Sans',sans-serif;font-weight:bold;font-style:normal;font-size:13.800px;fill:#000">C2</text>
<text transform="translate(183.34,645.09) scale(0.9500,1)" style="font-family:'Liberation Sans',sans-serif;font-weight:bold;font-style:normal;font-size:13.800px;fill:#000">C3</text>
<text transform="translate(183.41,656.92) scale(0.9500,1)" style="font-family:'Liberation Sans',sans-serif;font-weight:bold;font-style:normal;font-size:13.800px;fill:#000">C7</text>
<text transform="translate(183.21,668.76) scale(0.9500,1)" style="font-family:'Liberation Sans',sans-serif;font-weight:bold;font-style:normal;font-size:13.800px;fill:#000">C8</text>
<text transform="translate(183.21,680.59) scale(0.9500,1)" style="font-family:'Liberation Sans',sans-serif;font-weight:bold;font-style:normal;font-size:13.800px;fill:#000">C5</text>
<text transform="translate(183.34,692.42) scale(0.9500,1)" style="font-family:'Liberation Sans',sans-serif;font-weight:bold;font-style:normal;font-size:13.800px;fill:#000">C6</text>
<text transform="translate(182.88,704.25) scale(0.9500,1)" style="font-family:'Liberation Sans',sans-serif;font-weight:bold;font-style:normal;font-size:13.800px;fill:#000">C4</text>
<text transform="translate(213.52,779.96) rotate(90) scale(0.9600,1)" style="font-family:'Liberation Sans',sans-serif;font-weight:bold;font-style:normal;font-size:16.000px;fill:#000">20</text>
<text transform="translate(276.08,779.50) rotate(90) scale(0.9600,1)" style="font-family:'Liberation Sans',sans-serif;font-weight:bold;font-style:normal;font-size:16.000px;fill:#000">100</text>
<text transform="translate(354.28,779.96) rotate(90) scale(0.9600,1)" style="font-family:'Liberation Sans',sans-serif;font-weight:bold;font-style:normal;font-size:16.000px;fill:#000">200</text>
<text transform="translate(432.48,780.12) rotate(90) scale(0.9600,1)" style="font-family:'Liberation Sans',sans-serif;font-weight:bold;font-style:normal;font-size:16.000px;fill:#000">300</text>
<text transform="translate(209.02,492.15) scale(1.0109,1)" style="font-family:'Liberation Sans',sans-serif;font-weight:bold;font-style:normal;font-size:27.380px;fill:#000">(c)</text>
<text transform="translate(213.05,527.39) scale(1.1703,1)" style="font-family:'Liberation Serif',serif;font-weight:bold;font-style:italic;font-size:20.857px;fill:#000">Cls</text>
<text transform="translate(244.85,533.16) scale(1.1450,1)" style="font-family:'Liberation Serif',serif;font-weight:bold;font-style:normal;font-size:14.179px;fill:#000">3</text>
<text transform="translate(245.11,516.46) scale(0.6911,1)" style="font-family:'Liberation Serif',serif;font-weight:normal;font-style:normal;font-size:15.889px;fill:#000">(</text>
<text transform="translate(250.37,516.37) scale(1.1824,1)" style="font-family:'Liberation Serif',serif;font-weight:bold;font-style:italic;font-size:12.917px;fill:#000">α</text>
<text transform="translate(261.97,516.46) scale(0.7020,1)" style="font-family:'Liberation Serif',serif;font-weight:normal;font-style:normal;font-size:15.889px;fill:#000">)</text>
<text transform="translate(268.18,526.97) scale(1.0552,1)" style="font-family:'Liberation Serif',serif;font-weight:normal;font-style:normal;font-size:21.556px;fill:#000">(</text>
<text transform="translate(276.24,527.19) scale(1.0796,1)" style="font-family:'Liberation Serif',serif;font-weight:bold;font-style:italic;font-size:21.493px;fill:#000">Set</text>
<text transform="translate(312.01,527.60) scale(1.0858,1)" style="font-family:'Liberation Serif',serif;font-weight:bold;font-style:normal;font-size:22.901px;fill:#000">1</text>
<text transform="translate(323.93,526.83) scale(1.1596,1)" style="font-family:'Liberation Serif',serif;font-weight:normal;font-style:normal;font-size:22.222px;fill:#000">)</text>
<circle cx="331.4" cy="468.9" r="5.8" fill="none" stroke="#2dcc2d" stroke-width="2.7"/>
<circle cx="410.2" cy="468.4" r="5.8" fill="none" stroke="#2dcc2d" stroke-width="2.7"/>
<rect x="283.3" y="651.3" width="14.9" height="22.299999999999976" fill="none" stroke="#26c826" stroke-width="2.6"/>
<text transform="translate(160.11,691.07) rotate(-90) scale(0.9651,1)" style="font-family:'Liberation Sans',sans-serif;font-weight:bold;font-style:normal;font-size:19.456px;fill:#000">Atom in ZN-3-56</text>
<text transform="translate(238.89,822.37) scale(0.9447,1)" style="font-family:'Liberation Sans',sans-serif;font-weight:bold;font-style:normal;font-size:19.679px;fill:#000">Residue No. in PLpro</text>
<defs><linearGradient id="g463" x1="0" y1="1" x2="0" y2="0">
<stop offset="0.000" stop-color="#fff5f0"/>
<stop offset="0.050" stop-color="#ffede5"/>
<stop offset="0.100" stop-color="#fee5d8"/>
<stop offset="0.150" stop-color="#fed9c9"/>
<stop offset="0.200" stop-color="#fdcab5"/>
<stop offset="0.250" stop-color="#fcbba1"/>
<stop offset="0.300" stop-color="#fcab8f"/>
<stop offset="0.350" stop-color="#fc9b7c"/>
<stop offset="0.400" stop-color="#fc8a6a"/>
<stop offset="0.450" stop-color="#fb7a5a"/>
<stop offset="0.500" stop-color="#fb694a"/>
<stop offset="0.550" stop-color="#f6583e"/>
<stop offset="0.600" stop-color="#f14432"/>
<stop offset="0.650" stop-color="#e83429"/>
<stop offset="0.700" stop-color="#d92523"/>
<stop offset="0.750" stop-color="#ca181d"/>
<stop offset="0.800" stop-color="#bc141a"/>
<stop offset="0.850" stop-color="#ac1117"/>
<stop offset="0.900" stop-color="#980c13"/>
<stop offset="0.950" stop-color="#7e0610"/>
<stop offset="1.000" stop-color="#67000d"/>
</linearGradient></defs>
<rect x="463.8" y="445.3" width="12.0" height="331.5" fill="url(#g463)"/>
<line x1="472.2" y1="776.80" x2="475.8" y2="776.80" stroke="#333" stroke-width="1.3"/>
<line x1="472.2" y1="710.50" x2="475.8" y2="710.50" stroke="#333" stroke-width="1.3"/>
<line x1="472.2" y1="644.20" x2="475.8" y2="644.20" stroke="#333" stroke-width="1.3"/>
<line x1="472.2" y1="577.90" x2="475.8" y2="577.90" stroke="#333" stroke-width="1.3"/>
<line x1="472.2" y1="511.60" x2="475.8" y2="511.60" stroke="#333" stroke-width="1.3"/>
<line x1="472.2" y1="445.30" x2="475.8" y2="445.30" stroke="#333" stroke-width="1.3"/>
<text transform="translate(480.15,452.15) scale(1.0493,1)" style="font-family:'Liberation Sans',sans-serif;font-weight:bold;font-style:normal;font-size:15.352px;fill:#000">1.0</text>
<text transform="translate(480.57,517.05) scale(1.0706,1)" style="font-family:'Liberation Sans',sans-serif;font-weight:bold;font-style:normal;font-size:14.648px;fill:#000">0.8</text>
<text transform="translate(480.06,583.94) scale(0.9953,1)" style="font-family:'Liberation Sans',sans-serif;font-weight:bold;font-style:normal;font-size:16.197px;fill:#000">0.6</text>
<text transform="translate(480.07,649.85) scale(1.0267,1)" style="font-family:'Liberation Sans',sans-serif;font-weight:bold;font-style:normal;font-size:15.352px;fill:#000">0.4</text>
<text transform="translate(484.36,714.35) scale(1.0536,1)" style="font-family:'Liberation Sans',sans-serif;font-weight:bold;font-style:normal;font-size:15.070px;fill:#000">0.2</text>
<text transform="translate(482.06,782.65) scale(1.0392,1)" style="font-family:'Liberation Sans',sans-serif;font-weight:bold;font-style:normal;font-size:15.352px;fill:#000">0.0</text>
<text transform="translate(517.39,524.12) rotate(90) scale(0.9882,1)" style="font-family:'Liberation Sans',sans-serif;font-weight:bold;font-style:normal;font-size:17.112px;fill:#000">Contact probability</text>
</svg></body></html>
